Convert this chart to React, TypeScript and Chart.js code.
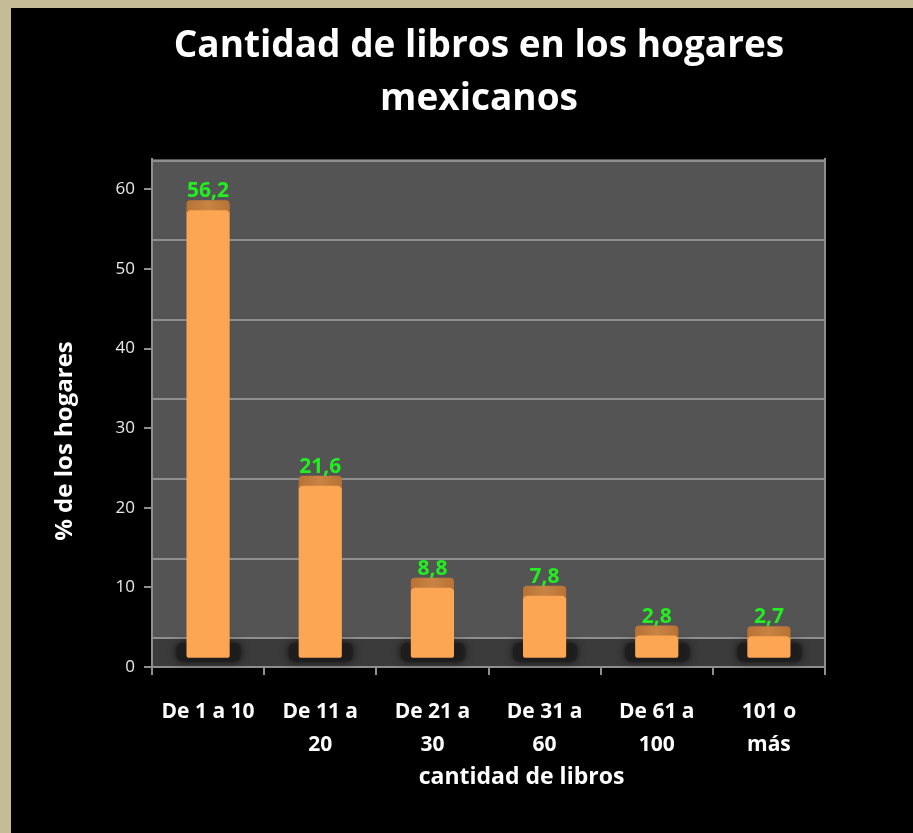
import React, { useEffect, useRef } from "react";
import { Chart, registerables } from "chart.js";

Chart.register(...registerables);

const titleLines = ["Cantidad de libros en los hogares", "mexicanos"];
const categories = [
  ["De 1 a 10"],
  ["De 11 a", "20"],
  ["De 21 a", "30"],
  ["De 31 a", "60"],
  ["De 61 a", "100"],
  ["101 o", "más"],
];
const values = [56.2, 21.6, 8.8, 7.8, 2.8, 2.7];
const yTickStep = 10;
const yTickMax = 60;
const xTitle = "cantidad de libros";
const yTitle = "% de los hogares";

const FONT = "'Open Sans', 'DejaVu Sans', sans-serif";
const GRID = "#8e8e8e";

const fmt = (v: number) => v.toFixed(1).replace(".", ",");

const decorPlugin = {
  id: "decor",
  beforeDraw(chart: any) {
    const { ctx, chartArea } = chart;
    const yg = chart.scales.yg;
    const floorTop = yg.getPixelForValue(0);
    ctx.save();
    ctx.fillStyle = "#545454";
    ctx.fillRect(chartArea.left, chartArea.top, chartArea.right - chartArea.left, floorTop - chartArea.top);
    ctx.fillStyle = "#3b3b3b";
    ctx.fillRect(chartArea.left, floorTop, chartArea.right - chartArea.left, chartArea.bottom - floorTop);
    ctx.restore();
  },
  beforeDatasetsDraw(chart: any) {
    const { ctx } = chart;
    const meta = chart.getDatasetMeta(0);
    ctx.save();
    meta.data.forEach((bar: any) => {
      const w = bar.width;
      ctx.fillStyle = "rgba(30,30,30,0.9)";
      ctx.shadowColor = "rgba(0,0,0,0.8)";
      ctx.shadowBlur = 8;
      ctx.beginPath();
      (ctx as any).roundRect(bar.x - w / 2 - 10, bar.base - 15, w + 21, 19, 6);
      ctx.fill();
    });
    ctx.restore();
  },
  afterDatasetsDraw(chart: any) {
    const { ctx } = chart;
    const meta = chart.getDatasetMeta(0);
    ctx.save();
    meta.data.forEach((bar: any, i: number) => {
      const w = bar.width;
      const left = bar.x - w / 2;
      const g = ctx.createLinearGradient(left, 0, left + w, 0);
      g.addColorStop(0, "#b87235");
      g.addColorStop(0.5, "#c98443");
      g.addColorStop(1, "#b87235");
      ctx.fillStyle = g;
      ctx.beginPath();
      (ctx as any).roundRect(left, bar.y - 10, w, 12, [4, 4, 0, 0]);
      ctx.fill();
      ctx.fillStyle = "#fca553";
      ctx.beginPath();
      (ctx as any).roundRect(left + 1, bar.y, w - 2, 4, [3, 3, 0, 0]);
      ctx.fill();
      ctx.fillStyle = "#22ee22";
      ctx.font = `bold 21px ${FONT}`;
      ctx.textAlign = "center";
      ctx.textBaseline = "alphabetic";
      ctx.fillText(fmt(values[i]), bar.x, bar.y - 13);
    });
    ctx.restore();
  },
  afterDraw(chart: any) {
    const { ctx, chartArea } = chart;
    ctx.save();
    ctx.fillStyle = "#ffffff";
    ctx.font = `bold 23px ${FONT}`;
    ctx.textAlign = "center";
    ctx.textBaseline = "middle";
    const cx = (chartArea.left + chartArea.right) / 2;
    ctx.fillText(xTitle, cx + 33, chartArea.bottom + 110);
    ctx.font = `bold 24px ${FONT}`;
    const cy = (chartArea.top + chartArea.bottom) / 2;
    ctx.translate(chartArea.left - 87, cy + 28);
    ctx.rotate(-Math.PI / 2);
    ctx.fillText(yTitle, 0, 0);
    ctx.restore();
  },
};

export default function App() {
  const ref = useRef<HTMLCanvasElement | null>(null);

  useEffect(() => {
    document.body.style.margin = "0";
    document.body.style.background = "#c6bb97";
    const canvas = ref.current;
    if (!canvas) return;
    const chart = new Chart(canvas, {
      type: "bar",
      data: {
        labels: categories,
        datasets: [
          {
            data: values,
            yAxisID: "yb",
            backgroundColor: "#fca553",
            borderRadius: 2,
            borderSkipped: false,
            barPercentage: 0.385,
            categoryPercentage: 1,
          },
        ],
      },
      options: {
        responsive: false,
        animation: false,
        layout: { padding: { left: 34, right: 0, top: 0, bottom: 0 } },
        plugins: {
          legend: { display: false },
          tooltip: { enabled: false },
          title: {
            display: true,
            text: titleLines,
            color: "#ffffff",
            font: { family: FONT, size: 37, weight: "bold", lineHeight: 53 / 37 },
            padding: { top: 12, bottom: 33 },
          },
        },
        scales: {
          x: {
            grid: { offset: true, drawOnChartArea: false, color: GRID, lineWidth: 2, tickLength: 8 },
            border: { color: GRID, width: 2 },
            ticks: {
              color: "#ffffff",
              font: { family: FONT, size: 21, weight: "bold", lineHeight: 33 / 21 },
              padding: 21,
              maxRotation: 0,
              autoSkip: false,
            },
            afterFit: (s: any) => {
              s.height = 166;
            },
          },
          y: {
            position: "left",
            min: 0,
            max: 63.8,
            grid: { drawOnChartArea: false, color: GRID, lineWidth: 2, tickLength: 8 },
            border: { color: GRID, width: 2 },
            ticks: {
              stepSize: yTickStep,
              includeBounds: false,
              color: "#e8e8e8",
              font: { family: FONT, size: 17 },
              padding: 9,
              callback: (v: any) => (v <= yTickMax ? String(v) : ""),
            },
            afterFit: (s: any) => {
              s.width = 107;
            },
          },
          yg: {
            position: "right",
            min: -3.6,
            max: 60.2,
            grid: { color: GRID, lineWidth: 2, drawTicks: false },
            border: { color: GRID, width: 2 },
            ticks: { display: false, stepSize: yTickStep, includeBounds: false },
            afterFit: (s: any) => {
              s.width = 88;
            },
          },
          yb: {
            display: false,
            min: -1.15,
            max: 62.65,
          },
        },
      },
      plugins: [decorPlugin],
    } as any);
    return () => chart.destroy();
  }, []);

  return (
    <div style={{ position: "relative", width: 913, height: 833, background: "#c6bb97", overflow: "hidden" }}>
      <div style={{ position: "absolute", left: 11, top: 8, width: 902, height: 825, background: "#000" }}>
        <canvas ref={ref} width={902} height={825} style={{ display: "block" }} />
      </div>
    </div>
  );
}
